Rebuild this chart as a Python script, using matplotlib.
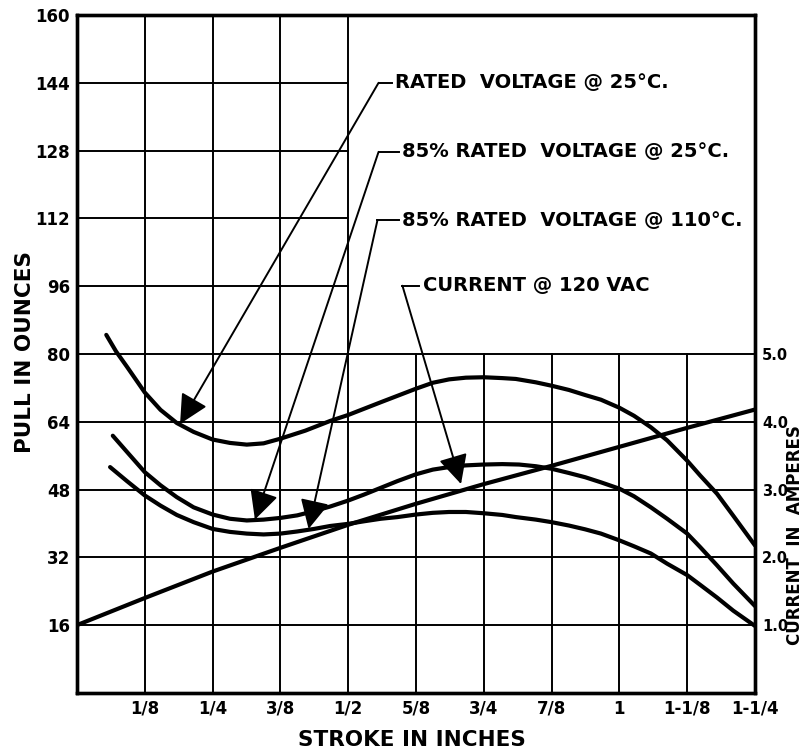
import matplotlib
matplotlib.use("Agg")
import matplotlib.pyplot as plt

# ---------------- data ----------------
x_ticks = [0.125, 0.25, 0.375, 0.5, 0.625, 0.75, 0.875, 1.0, 1.125, 1.25]
x_tick_labels = ["1/8", "1/4", "3/8", "1/2", "5/8", "3/4", "7/8", "1", "1-1/8", "1-1/4"]
y_ticks = [16, 32, 48, 64, 80, 96, 112, 128, 144, 160]
amp_ticks = [1.0, 2.0, 3.0, 4.0, 5.0]

rated_25_x = [0.054, 0.072, 0.092, 0.125, 0.154, 0.184, 0.215, 0.25, 0.282, 0.313, 0.344,
              0.375, 0.421, 0.467, 0.5, 0.56, 0.625, 0.656, 0.686, 0.717, 0.75, 0.784,
              0.809, 0.846, 0.875, 0.907, 0.937, 0.966, 1.0, 1.027, 1.058, 1.088, 1.125,
              1.149, 1.18, 1.21, 1.25]
rated_25_y = [84.5, 80.6, 77.0, 70.9, 66.8, 63.7, 61.6, 59.8, 59.0, 58.6, 58.9,
              60.0, 61.9, 64.2, 65.6, 68.6, 71.8, 73.2, 74.0, 74.4, 74.5, 74.3,
              74.1, 73.3, 72.5, 71.5, 70.3, 69.2, 67.3, 65.4, 62.7, 59.6, 54.8,
              51.3, 47.0, 41.8, 34.8]

p85_25_x = [0.066, 0.092, 0.125, 0.154, 0.184, 0.215, 0.25, 0.282, 0.313, 0.344, 0.375,
            0.406, 0.437, 0.467, 0.5, 0.529, 0.56, 0.591, 0.625, 0.656, 0.686, 0.717,
            0.75, 0.784, 0.815, 0.846, 0.875, 0.907, 0.937, 0.966, 1.0, 1.027, 1.058,
            1.088, 1.125, 1.149, 1.18, 1.21, 1.25]
p85_25_y = [60.7, 56.9, 52.1, 49.0, 46.2, 43.8, 42.1, 41.1, 40.7, 40.9, 41.3,
            41.9, 42.9, 44.0, 45.4, 46.8, 48.4, 50.0, 51.6, 52.7, 53.3, 53.7,
            53.9, 54.0, 53.9, 53.5, 52.9, 51.9, 50.9, 49.7, 48.2, 46.4, 43.8,
            41.1, 37.6, 34.4, 30.1, 25.8, 20.5]

p85_110_x = [0.061, 0.092, 0.125, 0.154, 0.184, 0.215, 0.25, 0.282, 0.313, 0.344, 0.375,
             0.406, 0.437, 0.467, 0.5, 0.529, 0.56, 0.591, 0.625, 0.656, 0.686, 0.717,
             0.75, 0.784, 0.809, 0.846, 0.875, 0.907, 0.937, 0.966, 1.0, 1.027, 1.058,
             1.088, 1.125, 1.149, 1.18, 1.21, 1.25]
p85_110_y = [53.3, 50.0, 46.6, 44.2, 42.0, 40.3, 38.7, 38.0, 37.6, 37.4, 37.6,
             38.1, 38.7, 39.4, 39.9, 40.5, 41.1, 41.5, 42.1, 42.5, 42.7, 42.7,
             42.4, 42.0, 41.5, 40.9, 40.3, 39.5, 38.6, 37.6, 36.0, 34.6, 32.9,
             30.5, 27.8, 25.5, 22.5, 19.4, 15.8]

current_x = [0.0, 0.125, 0.25, 0.375, 0.5, 0.625, 0.75, 0.875, 1.0, 1.125, 1.25]
current_amps = [1.0, 1.40, 1.79, 2.14, 2.48, 2.79, 3.08, 3.35, 3.63, 3.91, 4.18]

labels = ["RATED  VOLTAGE @ 25°C.", "85% RATED  VOLTAGE @ 25°C.",
          "85% RATED  VOLTAGE @ 110°C.", "CURRENT @ 120 VAC"]
arrow_tips = [(0.19, 63.5), (0.328, 40.9), (0.427, 38.7), (0.708, 49.3)]
label_corners = [(0.556, 144.0), (0.556, 127.7), (0.554, 111.6), (0.600, 96.1)]
label_text_x = [0.586, 0.600, 0.600, 0.637]

# ---------------- figure ----------------
plt.rcParams['font.family'] = ['DejaVu Sans']
plt.rcParams['font.weight'] = 'bold'

fig = plt.figure(figsize=(8.06, 7.55), dpi=100)
ax = fig.add_axes([77 / 806, 1 - 692.9 / 755, (755 - 77) / 806, (692.9 - 15) / 755])
ax.set_xlim(0, 1.25)
ax.set_ylim(0, 160)

# partial grid as in the original chart paper
for xv in x_ticks[:-1]:
    top = 1.0 if xv <= 0.5 else 0.5
    ax.axvline(xv, ymin=0, ymax=top, color='k', lw=1.4, zorder=1)
for yv in y_ticks[:-1]:
    right = 1.0 if yv <= 80 else 0.4
    ax.axhline(yv, xmin=0, xmax=right, color='k', lw=1.4, zorder=1)

for s in ax.spines.values():
    s.set_linewidth(2.4)

curve_kw = dict(color='k', lw=3.0, solid_capstyle='round', solid_joinstyle='round', zorder=3)
ax.plot(rated_25_x, rated_25_y, **curve_kw)
ax.plot(p85_25_x, p85_25_y, **curve_kw)
ax.plot(p85_110_x, p85_110_y, **curve_kw)

ax.set_xticks(x_ticks)
ax.set_xticklabels(x_tick_labels)
ax.set_yticks(y_ticks)
ax.set_yticklabels([str(v) for v in y_ticks])
ax.tick_params(axis='both', length=0, labelsize=12, pad=5)
for t in ax.get_xticklabels() + ax.get_yticklabels():
    t.set_fontweight('bold')

ax.set_xlabel("STROKE IN INCHES", fontsize=15.5, fontweight='bold', va='center')
ax.xaxis.set_label_coords(0.494, -0.0695)
ax.set_ylabel("PULL IN OUNCES", fontsize=15.5, fontweight='bold', va='center')
ax.yaxis.set_label_coords(-0.077, 0.503)

# right axis: current
ax2 = ax.twinx()
ax2.set_ylim(0, 10)
ax2.plot(current_x, current_amps, color='k', lw=3.0, solid_capstyle='butt', zorder=3)
ax2.set_yticks(amp_ticks)
ax2.set_yticklabels([f"{v:.1f}" for v in amp_ticks])
ax2.tick_params(axis='y', length=0, labelsize=10.5, pad=5)
for t in ax2.get_yticklabels():
    t.set_fontweight('bold')
for s in ax2.spines.values():
    s.set_linewidth(2.4)
fig.text(795 / 806, 1 - 535 / 755, "CURRENT  IN  AMPERES", rotation=90,
         ha='center', va='center', fontsize=12, fontweight='bold')

# annotations with leader lines
for lab, tip, corner, tx in zip(labels, arrow_tips, label_corners, label_text_x):
    ax.annotate('', xy=tip, xytext=corner,
                arrowprops=dict(arrowstyle='-|>,head_length=0.9,head_width=0.45',
                                mutation_scale=20, lw=1.4, color='k',
                                shrinkA=0, shrinkB=0), zorder=4)
    ax.plot([corner[0], tx - 0.006], [corner[1], corner[1]], color='k', lw=1.4, zorder=4)
    ax.text(tx, corner[1], lab, ha='left', va='center', fontsize=14,
            fontweight='bold', zorder=5)

fig.savefig("out.png", dpi=100)
